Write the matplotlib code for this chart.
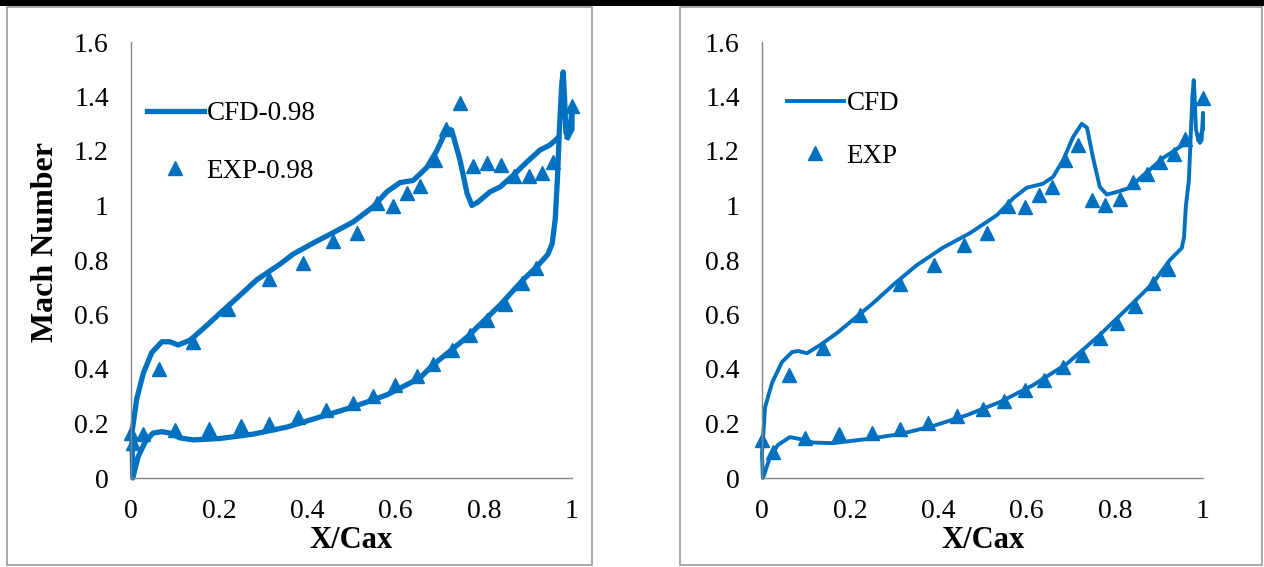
import numpy as np
import matplotlib
matplotlib.use('agg')
import matplotlib.pyplot as plt
from matplotlib.patches import Rectangle

plt.rcParams['font.family'] = ['Liberation Serif', 'DejaVu Serif']

BLUE = '#0070C0'
GREY = '#868686'

# --- lijevi graf (0.98) ---
cfd1_up_x = [0.002, 0.013, 0.028, 0.047, 0.07, 0.088, 0.107, 0.134, 0.172, 0.202, 0.24, 0.285,
             0.338, 0.368, 0.413, 0.458, 0.504, 0.549, 0.58, 0.61, 0.64, 0.671, 0.693, 0.716,
             0.727, 0.746, 0.762, 0.773, 0.787, 0.814, 0.837, 0.866, 0.898, 0.927, 0.95, 0.968]
cfd1_up_y = [0.165, 0.29, 0.385, 0.46, 0.50, 0.50, 0.488, 0.506, 0.56, 0.605, 0.66, 0.727,
             0.785, 0.822, 0.862, 0.90, 0.94, 0.995, 1.05, 1.084, 1.092, 1.14, 1.2, 1.28,
             1.277, 1.167, 1.045, 1.0, 1.013, 1.05, 1.068, 1.11, 1.16, 1.203, 1.222, 1.248]
cfd1_lo_x = [0.004, 0.016, 0.032, 0.05, 0.07, 0.088, 0.111, 0.141, 0.202, 0.277, 0.354, 0.429,
             0.504, 0.58, 0.655, 0.685, 0.762, 0.837, 0.889, 0.92, 0.945, 0.955, 0.962, 0.967,
             0.972, 0.977, 0.98, 0.983, 0.986, 0.99, 0.996, 1.0, 1.0, 0.99]
cfd1_lo_y = [0.0, 0.077, 0.132, 0.165, 0.17, 0.165, 0.147, 0.14, 0.145, 0.161, 0.187, 0.224,
             0.261, 0.305, 0.367, 0.415, 0.517, 0.635, 0.727, 0.775, 0.82, 0.86, 0.95, 1.1,
             1.3, 1.45, 1.49, 1.4, 1.27, 1.25, 1.29, 1.35, 1.28, 1.25]

exp1_x = [0, 0.064, 0.141, 0.22, 0.313, 0.39, 0.458, 0.512, 0.558, 0.594, 0.626, 0.655, 0.69,
          0.714, 0.746, 0.776, 0.808, 0.838, 0.868, 0.902, 0.932, 0.957, 1.0,
          0.005, 0.027, 0.10, 0.177, 0.249, 0.313, 0.379, 0.442, 0.503, 0.549, 0.599, 0.649,
          0.685, 0.728, 0.769, 0.807, 0.848, 0.886, 0.918]
exp1_y = [0.165, 0.40, 0.50, 0.62, 0.73, 0.79, 0.87, 0.90, 1.01, 1.00, 1.045, 1.07, 1.167,
          1.28, 1.377, 1.145, 1.155, 1.15, 1.11, 1.11, 1.12, 1.16, 1.365,
          0.13, 0.16, 0.175, 0.18, 0.19, 0.20, 0.225, 0.25, 0.275, 0.30, 0.34, 0.375,
          0.42, 0.47, 0.525, 0.58, 0.64, 0.715, 0.77]

# --- desni graf ---
cfd2_up_x = [0.0, 0.007, 0.023, 0.045, 0.068, 0.082, 0.102, 0.132, 0.17, 0.206, 0.252, 0.297,
             0.35, 0.41, 0.472, 0.533, 0.57, 0.6, 0.637, 0.66, 0.683, 0.705, 0.725, 0.737,
             0.75, 0.766, 0.782, 0.805, 0.834, 0.864, 0.91, 0.948, 0.966]
cfd2_up_y = [0.09, 0.26, 0.35, 0.425, 0.462, 0.466, 0.458, 0.488, 0.532, 0.58, 0.642, 0.708,
             0.78, 0.845, 0.899, 0.965, 1.027, 1.065, 1.08, 1.105, 1.167, 1.25, 1.30, 1.285,
             1.18, 1.068, 1.04, 1.05, 1.065, 1.11, 1.175, 1.215, 1.233]
cfd2_lo_x = [0.002, 0.007, 0.018, 0.036, 0.063, 0.086, 0.116, 0.161, 0.238, 0.313, 0.388, 0.465,
             0.54, 0.615, 0.692, 0.766, 0.841, 0.887, 0.925, 0.952, 0.957, 0.961, 0.968, 0.972,
             0.976, 0.979, 0.981, 0.984, 0.988, 0.993, 0.997, 1.0, 1.0, 0.99]
cfd2_lo_y = [0.0, 0.022, 0.077, 0.121, 0.15, 0.143, 0.13, 0.128, 0.143, 0.161, 0.191, 0.231,
             0.279, 0.341, 0.42, 0.525, 0.642, 0.716, 0.80, 0.844, 0.884, 0.995, 1.094, 1.25,
             1.40, 1.46, 1.4, 1.28, 1.25, 1.23, 1.24, 1.34, 1.28, 1.24]

exp2_x = [0.061, 0.138, 0.222, 0.313, 0.39, 0.458, 0.51, 0.558, 0.596, 0.627, 0.657, 0.687,
          0.717, 0.748, 0.778, 0.812, 0.841, 0.873, 0.902, 0.934, 0.959, 1.0,
          0.0, 0.025, 0.098, 0.175, 0.25, 0.313, 0.376, 0.442, 0.501, 0.549, 0.596, 0.64,
          0.683, 0.726, 0.766, 0.805, 0.846, 0.887, 0.921]
exp2_y = [0.378, 0.477, 0.598, 0.712, 0.78, 0.855, 0.899, 1.0, 0.996, 1.04, 1.068, 1.167,
          1.222, 1.02, 1.002, 1.024, 1.086, 1.116, 1.16, 1.19, 1.244, 1.395,
          0.14, 0.095, 0.147, 0.161, 0.165, 0.18, 0.202, 0.228, 0.253, 0.283, 0.323, 0.36,
          0.407, 0.451, 0.514, 0.569, 0.631, 0.716, 0.767]

x_ticks = [0, 0.2, 0.4, 0.6, 0.8, 1]
x_tick_labels = ['0', '0.2', '0.4', '0.6', '0.8', '1']
y_ticks = [0, 0.2, 0.4, 0.6, 0.8, 1.0, 1.2, 1.4, 1.6]
y_tick_labels = ['0', '0.2', '0.4', '0.6', '0.8', '1', '1.2', '1.4', '1.6']

W, H = 1264, 567
fig = plt.figure(figsize=(W / 100, H / 100), dpi=100)


def px(x0, y0, x1, y1):
    # pikseli (odozgo) -> koordinate figure
    return [x0 / W, 1 - y1 / H, (x1 - x0) / W, (y1 - y0) / H]


def nacrtaj(ax, up_x, up_y, lo_x, lo_y, ex, ey, lw, ms, labels, leg_anchor, spacing):
    lx = np.concatenate([np.array(up_x)[::-1], lo_x])
    ly = np.concatenate([np.array(up_y)[::-1], lo_y])
    ax.plot(lx, ly, color=BLUE, lw=lw, solid_joinstyle='round', clip_on=False, label=labels[0])
    ax.plot(ex, ey, ls='none', marker='^', ms=ms, color=BLUE, clip_on=False, label=labels[1])
    ax.set_xlim(0, 1)
    ax.set_ylim(0, 1.6)
    ax.set_xticks(x_ticks, x_tick_labels)
    ax.set_yticks(y_ticks, y_tick_labels)
    ax.tick_params(length=0, labelsize=20)
    ax.tick_params(axis='y', pad=16)
    ax.tick_params(axis='x', pad=15)
    for s in ['top', 'right']:
        ax.spines[s].set_visible(False)
    for s in ['left', 'bottom']:
        ax.spines[s].set_color(GREY)
        ax.spines[s].set_linewidth(1.0)
    ax.set_xlabel('X/Cax', fontsize=22, fontweight='bold')
    ax.xaxis.set_label_coords(0.5, -0.11)
    leg = ax.legend(loc='center left', bbox_to_anchor=leg_anchor, bbox_transform=fig.transFigure,
                    frameon=False, fontsize=19.5, handlelength=2.1, handletextpad=0.1,
                    borderpad=0, borderaxespad=0, labelspacing=spacing)
    return leg


ax1 = fig.add_axes(px(131, 42, 572, 478))
nacrtaj(ax1, cfd1_up_x, cfd1_up_y, cfd1_lo_x, cfd1_lo_y, exp1_x, exp1_y, 3.8, 10,
        ['CFD-0.98', 'EXP-0.98'], (147 / W, 1 - 142.5 / H), 1.2)
ax1.set_ylabel('Mach Number', fontsize=23, fontweight='bold', va='center')
ax1.yaxis.set_label_coords(-0.195, 0.541)

ax2 = fig.add_axes(px(762, 42, 1203, 478))
nacrtaj(ax2, cfd2_up_x, cfd2_up_y, cfd2_lo_x, cfd2_lo_y, exp2_x, exp2_y, 2.8, 9.5,
        ['CFD', 'EXP'], (787 / W, 1 - 130 / H), 1.0)

# okviri oko grafova i crna crta na vrhu
for (x0, x1) in [(7, 592), (680, 1262)]:
    fig.patches.append(Rectangle((x0 / W, 1 - 565 / H), (x1 - x0) / W, (565 - 7) / H,
                                 transform=fig.transFigure, fill=False, ec='#999999', lw=1.2))
fig.patches.append(Rectangle((0, 1 - 6 / H), 1, 6 / H, transform=fig.transFigure,
                             fc='black', ec='none'))

plt.savefig('out.png', dpi=100)
